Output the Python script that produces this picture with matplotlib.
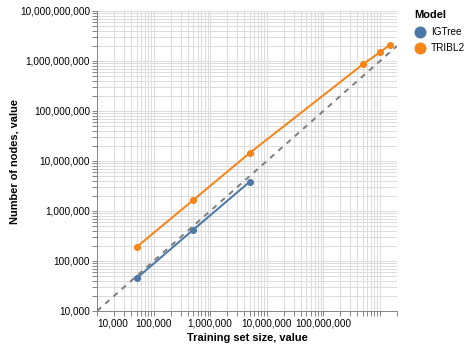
import matplotlib
matplotlib.use("Agg")
import matplotlib.pyplot as plt
from matplotlib.ticker import FixedLocator, FuncFormatter, NullFormatter
import numpy as np

# ---- data ----
igtree_x = [5e4, 5e5, 5e6]
igtree_y = [4.5e4, 4.2e5, 3.85e6]
tribl2_x = [5e4, 5e5, 5e6, 5e8, 1e9, 1.5e9]
tribl2_y = [1.9e5, 1.65e6, 1.45e7, 8.6e8, 1.5e9, 2.1e9]
diag = [1e4, 2e9]
models = ["IGTree", "TRIBL2"]
colors = ["#4c78a8", "#f58518"]
x_label_decades = [1e4, 1e5, 1e6, 1e7, 1e8]

plt.rcParams['font.family'] = ['Liberation Sans', 'DejaVu Sans']

W, H = 470, 347
DPI = 72
fig = plt.figure(figsize=(W / DPI, H / DPI), dpi=DPI)
ax = fig.add_axes([97 / W, (H - 311) / H, 300 / W, 300 / H])
ax.set_xscale('log')
ax.set_yscale('log')
ax.set_xlim(1e4, 2e9)
ax.set_ylim(1e4, 1e10)

# ticks / grid
xmaj = [10.0 ** k for k in range(4, 10)]
xmin = [m * 10.0 ** k for k in range(4, 10) for m in range(2, 10) if m * 10.0 ** k <= 2e9]
ymaj = [10.0 ** k for k in range(4, 11)]
ymin = [m * 10.0 ** k for k in range(4, 10) for m in range(2, 10)]
ax.xaxis.set_major_locator(FixedLocator(xmaj))
ax.xaxis.set_minor_locator(FixedLocator(xmin))
ax.yaxis.set_major_locator(FixedLocator(ymaj))
ax.yaxis.set_minor_locator(FixedLocator(ymin))

def xfmt(v, pos):
    for d in x_label_decades:
        if abs(v - d) / d < 1e-6:
            return f"{int(round(v)):,}"
    return ""
ax.xaxis.set_major_formatter(FuncFormatter(xfmt))
ax.yaxis.set_major_formatter(FuncFormatter(lambda v, p: f"{int(round(v)):,}"))
ax.xaxis.set_minor_formatter(NullFormatter())
ax.yaxis.set_minor_formatter(NullFormatter())

ax.grid(True, which='both', color='#dddddd', linewidth=1)
ax.set_axisbelow(True)
for which in ('major', 'minor'):
    ax.tick_params(axis='both', which=which, length=5, width=1, color='#888888',
                   labelsize=10, labelcolor='#000000', pad=2)
for s in ('top', 'right'):
    ax.spines[s].set_visible(False)
for s in ('left', 'bottom'):
    ax.spines[s].set_color('#888888')
    ax.spines[s].set_linewidth(1)

# first x label flush left
fig.canvas.draw()
labels = ax.get_xticklabels()
if labels:
    labels[0].set_horizontalalignment('left')

# data
ax.plot(igtree_x, igtree_y, color=colors[0], linewidth=2, marker='o', markersize=6, zorder=3)
ax.plot(tribl2_x, tribl2_y, color=colors[1], linewidth=2, marker='o', markersize=6, zorder=3)
ax.plot(diag, diag, color='#808080', linewidth=2, linestyle=(0, (2.75, 2.75)), zorder=4)

ax.set_xlabel("Training set size, value", fontsize=11, fontweight='bold', labelpad=5)
ax.set_ylabel("Number of nodes, value", fontsize=11, fontweight='bold', labelpad=0)

# legend (manual)
fig.text(414 / W, 1 - 15 / H, "Model", fontsize=11, fontweight='bold', ha='left', va='center')
for i, (m, c) in enumerate(zip(models, colors)):
    yy = 32 + 16 * i
    fig.lines.append(plt.Line2D([420 / W], [1 - yy / H], marker='o', markersize=11,
                                color=c, linestyle='None', transform=fig.transFigure))
    fig.text(431 / W, 1 - yy / H, m, fontsize=10, ha='left', va='center')

fig.savefig("out.png", dpi=DPI)
